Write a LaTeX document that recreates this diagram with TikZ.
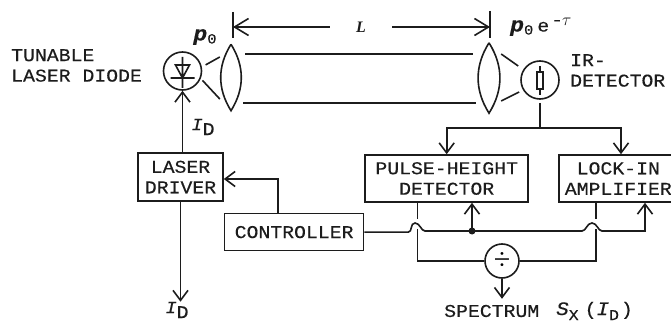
\documentclass[tikz,border=0pt]{standalone}
\usepackage{xcolor}
\usepackage{fontspec}
\usetikzlibrary{arrows.meta, positioning, calc}
\setmainfont{Liberation Serif}
\newfontfamily\monofont[FakeStretch=1.1,FakeBold=0.3]{Liberation Mono}
\definecolor{inkdark}{HTML}{1c1c1c}
\newcommand{\idlabel}{{\fontsize{17}{17}\selectfont\itshape I}\raisebox{-5pt}{\monofont D}}
\newcommand{\ponought}{{\fontsize{21}{21}\selectfont\textbf{\textit{p}}}\raisebox{-3pt}{\fontsize{14}{14}\selectfont\monofont 0}}
\begin{document}
\begin{tikzpicture}[
  x=1pt,y=-1pt,
  txt/.style={inner sep=0pt,font=\fontsize{18}{20.5}\selectfont\monofont,text=inkdark},
  box/.style={rectangle,draw=inkdark,line width=1.6pt,align=center,inner sep=0pt,txt},
  round/.style={circle,draw=inkdark,line width=1.6pt,minimum size=38pt,inner sep=0pt},
  lens/.style={minimum width=22pt,minimum height=66pt,inner sep=0pt},
  wire/.style={line width=1.6pt,color=inkdark},
  arr/.style={-{Straight Barb[length=10pt,width=15pt,line width=1.6pt]},wire},
  dimarr/.style={-{Straight Barb[length=14pt,width=17pt,line width=1.6pt]},wire}
]
\useasboundingbox (0,0) rectangle (671,326);
\fill[white] (0,0) rectangle (671,326);
\node[round] (diode) at (182.5,71) {};
\node[round] (irdet) at (540,80) {};
\node[lens] (lensa) at (231,77.5) {};
\node[lens, minimum width=24pt, minimum height=70pt] (lensb) at (489,78) {};
\node[box, minimum width=85pt, minimum height=48pt] (ldriver) at (180.5,177) {LASER\\DRIVER};
\node[box, below right=11pt and 0pt of ldriver.south east, minimum width=139pt, minimum height=37pt] (ctrl) {CONTROLLER};
\node[box, above right=10pt and 0pt of ctrl.north east, minimum width=163pt, minimum height=47pt] (phd) {PULSE-HEIGHT\\DETECTOR};
\node[box, right=29pt of phd, minimum width=115pt, minimum height=47pt] (lockin) {\hspace*{4pt}LOCK-IN\\\hspace*{4pt}AMPLIFIER};
\node[round, minimum size=34pt, font=\fontsize{30}{30}\selectfont] (divider) at (502,261) {÷};
\node[txt, align=left, anchor=west] (tunable) at (11,65.5) {TUNABLE\\LASER DIODE};
\node[txt, align=left, anchor=west] (irlabel) at (570,70.5) {IR-\\DETECTOR};
\node[txt, inner sep=0pt, minimum width=62pt, font=\bfseries\itshape\fontsize{16}{16}\selectfont] (dist) at (361,27) {L};
\node[txt] (pin) at (205,37) {\ponought};
\node[txt, anchor=west] (pout) at (510,27) {\ponought\hspace{4pt}{\monofont e}\hspace{2pt}\raisebox{6pt}{\monofont -\hspace{-1pt}$\tau$}};
\node[txt] (idin) at (203,127) {\idlabel};
\node[txt] (idout) at (177,310) {\idlabel};
\node[txt, anchor=west] (spectrum) at (444,311) {SPECTRUM};
\node[txt, anchor=west] (sxid) at (556,311) {{\fontsize{19}{19}\selectfont\itshape S}\raisebox{-5pt}{\fontsize{15}{15}\selectfont\monofont X}\hspace{6pt}{\monofont(}{\fontsize{19}{19}\selectfont\itshape I}\raisebox{-5pt}{\fontsize{15}{15}\selectfont\monofont D}\hspace{2pt}{\monofont)}};
\coordinate (barl) at (233,27);
\coordinate (barr) at (490,27);
\coordinate (joint) at (472,231);
\coordinate (turn) at (540,128);
\coordinate (lockinb) at ($(lockin.south west)+(38,0)$);
\coordinate (lockina) at ($(lockin.south west)+(87,0)$);
\coordinate (lockint) at ($(lockin.north west)+(63,0)$);
\coordinate (phdb) at ($(phd.south west)+(53,0)$);
\draw[wire] (lensa.north) to[bend left=32] (lensa.south) to[bend left=32] (lensa.north);
\draw[wire] (lensb.north) to[bend left=32] (lensb.south) to[bend left=32] (lensb.north);
\draw[wire] ($(barl)+(0,-15)$) -- ($(barl)+(0,11)$);
\draw[wire] ($(barr)+(0,-16)$) -- ($(barr)+(0,11)$);
\draw[dimarr] (dist.west) -- (barl);
\draw[dimarr] (dist.east) -- (barr);
\draw[wire] ($(lensa.east)+(3,-23.5)$) -- ($(lensb.west)+(-4,-24)$);
\draw[wire] ($(lensa.east)+(1,25.5)$) -- ($(lensb.west)+(-1,25)$);
\draw[wire] (diode.15) ++(4,-1) -- ($(lensa.west)+(0,-20.5)$);
\draw[wire] (diode.-25) ++(2,1) -- ($(lensa.west)+(0,21.5)$);
\draw[wire] ($(lensb.east)+(0,-24)$) -- ($(irdet.west)+(-2,-14)$);
\draw[wire] ($(lensb.east)+(0,23)$) -- ($(irdet.west)+(-1,12)$);
\draw[wire, shift={(diode)}] (0,-14) -- (0,17) (-12,7) -- (12,7) (-7,-6) -- (7,-6) -- (0,7) -- cycle;
\draw[wire, shift={(irdet)}] (0,-14) -- (0,-8) (0,9) -- (0,15) (-3,-8) rectangle (3,9);
\draw[arr] (diode.south |- ldriver.north) -- (diode.south);
\draw[arr] (ldriver.south) -- (ldriver.south |- idout.north);
\draw[arr] (ctrl.north -| 278,0) |- (ldriver.east |- 0,179);
\draw[wire] (irdet.south) ++(0,3) -- (turn);
\draw[arr] (turn) -| (phd.north);
\draw[arr] (turn) -| (lockint);
\draw[arr] (ctrl.east) -- ++(44,0) .. controls +(4,0) and +(-5,0) .. (415,223) .. controls +(5,0) and +(-4,0) .. (425,231) -- (582,231) .. controls +(4,0) and +(-5,0) .. (592,223) .. controls +(5,0) and +(-4,0) .. (602,231) -| (lockina);
\draw[arr] (joint) -- (joint |- phd.south);
\fill[inkdark] (joint) circle (3.5pt);
\draw[wire] (phdb) -- (phdb |- 0,219);
\draw[wire] (phdb |- 0,229) |- (divider.west);
\draw[wire] (lockinb) -- (lockinb |- 0,219);
\draw[wire] (lockinb |- 0,229) |- (divider.east);
\draw[arr] (divider.south) -- ++(0,20);
\end{tikzpicture}
\end{document}
